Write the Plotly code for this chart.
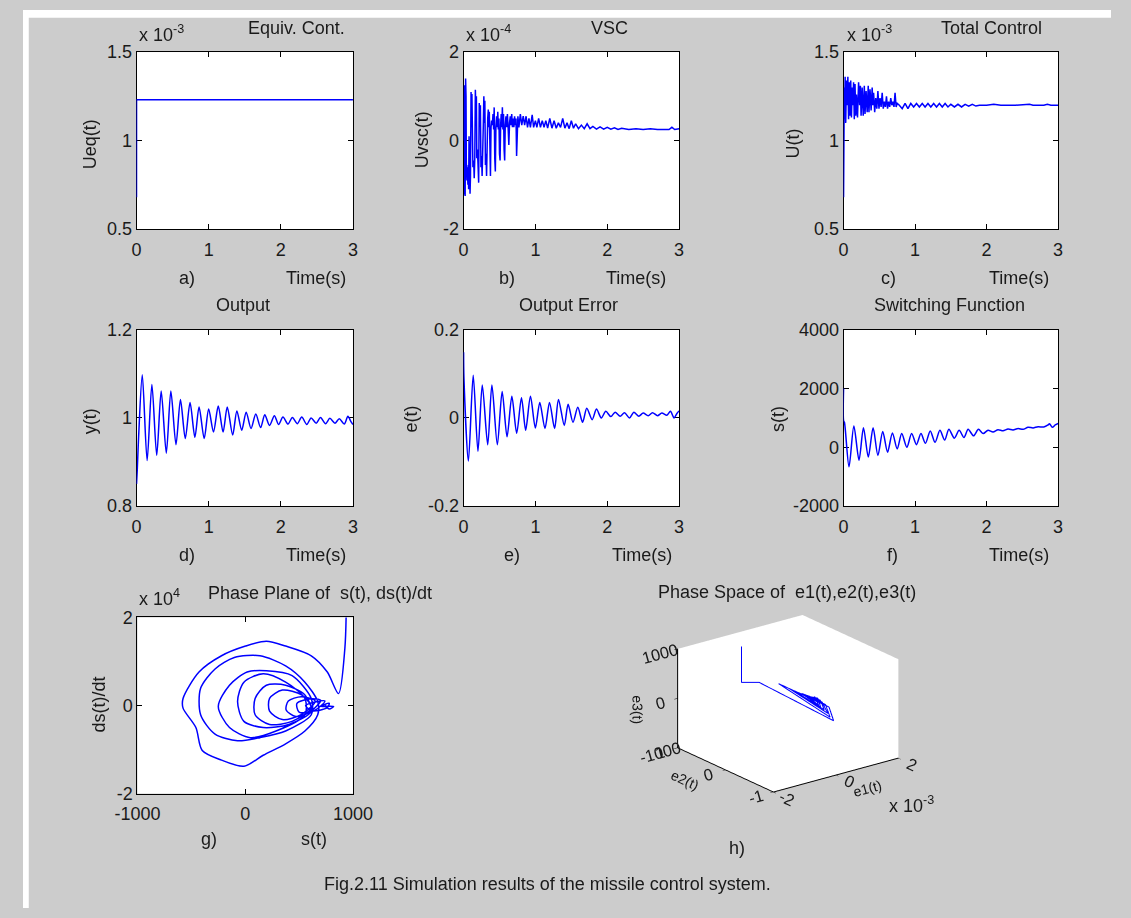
import plotly.graph_objects as go

# ---------------------------------------------------------------- page setup
W, H = 1131, 918
FONT = "Liberation Sans"
INK = "#1a1a1a"
BLUE = "#0000ff"
GREY = "#cccccc"


def fx(px):
    return px / W


def fy(py):
    return 1 - py / H


# ---------------------------------------------------------------- data
# a) equivalent control (values in units of 1e-3)
t_eq = [0.0, 0.0005, 3.0]
u_eq = [0.68, 1.23, 1.23]

# b) VSC control term (values in units of 1e-4)
t_vsc = [0.000, 0.004, 0.008, 0.012, 0.016, 0.022, 0.028, 0.034, 0.038, 0.046,
         0.054, 0.060, 0.066, 0.070, 0.076, 0.082, 0.090, 0.096, 0.104, 0.110,
         0.116, 0.122, 0.130, 0.140, 0.148, 0.156, 0.164, 0.172, 0.178, 0.184,
         0.192, 0.200, 0.210, 0.218, 0.226, 0.234, 0.242, 0.250, 0.258, 0.266,
         0.274, 0.282, 0.290, 0.296, 0.304, 0.312, 0.320, 0.328, 0.336, 0.344,
         0.350, 0.358, 0.366, 0.374, 0.382, 0.390, 0.400, 0.410, 0.418, 0.426,
         0.434, 0.442, 0.450, 0.460, 0.468, 0.476, 0.484, 0.492, 0.500, 0.508,
         0.516, 0.524, 0.532, 0.540, 0.548, 0.556, 0.564, 0.572, 0.580, 0.590,
         0.600, 0.610, 0.620, 0.630, 0.640, 0.650, 0.660, 0.670, 0.680, 0.690,
         0.700, 0.710, 0.720, 0.730, 0.738, 0.746, 0.756, 0.770, 0.790, 0.810,
         0.830, 0.850, 0.870, 0.890, 0.910, 0.930, 0.955, 0.975, 1.000, 1.020,
         1.045, 1.070, 1.095, 1.120, 1.145, 1.170, 1.200, 1.230, 1.260, 1.290,
         1.320, 1.350, 1.380, 1.410, 1.440, 1.470, 1.500, 1.530, 1.560, 1.600,
         1.640, 1.680, 1.720, 1.760, 1.800, 1.850, 1.900, 1.950, 2.000, 2.050,
         2.100, 2.150, 2.200, 2.300, 2.400, 2.500, 2.600, 2.700, 2.800, 2.860,
         2.900, 2.940, 3.000]
u_vsc = [0.00, 1.20, 0.20, 1.25, -1.20, -1.25, 1.40, 1.00, -0.50, -0.90,
         -0.60, -1.00, -0.55, -1.10, 0.10, -0.40, -1.20, -0.80, 1.10, 0.30,
         1.05, -0.30, -0.60, -0.45, -0.85, -0.40, 1.15, 0.60, 1.00, -0.40,
         -0.20, -0.50, -0.95, 0.85, 0.40, 0.80, -0.60, -0.35, -0.80, -0.40,
         0.30, 1.00, 0.40, 0.90, -0.55, -0.30, -0.80, 0.20, 0.50, 0.70,
         0.30, 0.65, -0.50, -0.80, 0.30, 0.45, 0.35, 0.60, 0.25, 0.75,
         -0.40, -0.70, 0.30, 0.55, 0.30, 0.65, 0.25, 0.50, -0.30, -0.45,
         0.35, 0.60, 0.30, 0.75, 0.25, 0.60, -0.20, -0.45, 0.35, 0.55,
         0.30, 0.60, 0.30, -0.10, 0.40, 0.55, 0.35, 0.60, 0.30, 0.50,
         0.30, 0.55, 0.35, 0.50, -0.35, 0.30, 0.55, 0.30, 0.60, 0.35,
         0.55, 0.35, 0.55, 0.30, 0.50, 0.30, 0.58, 0.30, 0.45, 0.30,
         0.50, 0.30, 0.45, 0.30, 0.45, 0.28, 0.50, 0.28, 0.45, 0.28,
         0.40, 0.30, 0.50, 0.28, 0.40, 0.27, 0.45, 0.28, 0.38, 0.27,
         0.35, 0.27, 0.38, 0.27, 0.32, 0.26, 0.31, 0.26, 0.30, 0.26,
         0.29, 0.25, 0.28, 0.25, 0.27, 0.25, 0.27, 0.25, 0.26, 0.25,
         0.30, 0.25, 0.27]

# c) total control (values in units of 1e-3)
t_tot = [0.000, 0.001, 0.005, 0.010, 0.015, 0.022, 0.030, 0.040, 0.050, 0.060,
         0.070, 0.080, 0.090, 0.100, 0.110, 0.120, 0.130, 0.140, 0.150, 0.160,
         0.170, 0.180, 0.195, 0.210, 0.225, 0.235, 0.245, 0.260, 0.275, 0.290,
         0.300, 0.315, 0.330, 0.345, 0.355, 0.370, 0.385, 0.400, 0.410, 0.420,
         0.435, 0.450, 0.465, 0.480, 0.495, 0.510, 0.525, 0.540, 0.555, 0.570,
         0.585, 0.600, 0.615, 0.630, 0.645, 0.660, 0.675, 0.690, 0.705, 0.720,
         0.735, 0.750, 0.780, 0.820, 0.860, 0.900, 0.940, 0.980, 1.020, 1.060,
         1.100, 1.140, 1.180, 1.220, 1.260, 1.300, 1.340, 1.380, 1.420, 1.460,
         1.500, 1.550, 1.600, 1.650, 1.700, 1.750, 1.800, 1.850, 1.900, 2.000,
         2.100, 2.200, 2.400, 2.600, 2.650, 2.800, 2.850, 2.900, 3.000]
u_tot = [0.68, 1.20, 1.10, 1.30, 1.12, 1.36, 1.10, 1.34, 1.20, 1.36,
         1.12, 1.33, 1.14, 1.34, 1.13, 1.30, 1.20, 1.33, 1.12, 1.32,
         1.14, 1.26, 1.13, 1.33, 1.20, 1.31, 1.14, 1.30, 1.14, 1.31,
         1.15, 1.28, 1.16, 1.31, 1.16, 1.29, 1.17, 1.30, 1.20, 1.27,
         1.16, 1.24, 1.18, 1.28, 1.18, 1.24, 1.19, 1.27, 1.18, 1.22,
         1.19, 1.25, 1.18, 1.22, 1.19, 1.24, 1.20, 1.22, 1.19, 1.27,
         1.19, 1.21, 1.20, 1.18, 1.21, 1.18, 1.21, 1.19, 1.21, 1.19,
         1.21, 1.19, 1.21, 1.19, 1.21, 1.19, 1.21, 1.19, 1.21, 1.19,
         1.205, 1.19, 1.205, 1.19, 1.205, 1.195, 1.205, 1.195, 1.20, 1.20,
         1.205, 1.20, 1.20, 1.205, 1.20, 1.20, 1.205, 1.20, 1.20]

# d) output
t_out = [0.000, 0.010, 0.030, 0.080, 0.147, 0.213, 0.280, 0.342, 0.413, 0.476,
         0.547, 0.609, 0.676, 0.742, 0.809, 0.867, 0.938, 1.000, 1.067, 1.133,
         1.200, 1.258, 1.333, 1.391, 1.458, 1.520, 1.587, 1.653, 1.720, 1.778,
         1.844, 1.911, 1.969, 2.030, 2.100, 2.160, 2.230, 2.290, 2.360, 2.420,
         2.490, 2.550, 2.620, 2.680, 2.750, 2.810, 2.880, 2.930, 2.970, 3.000]
y_out = [0.850, 0.880, 0.960, 1.098, 0.903, 1.076, 0.915, 1.061, 0.920, 1.061,
         0.939, 1.042, 0.953, 1.035, 0.956, 1.025, 0.953, 1.020, 0.968, 1.027,
         0.968, 1.025, 0.961, 1.016, 0.972, 1.013, 0.976, 1.009, 0.978, 1.007,
         0.983, 1.005, 0.985, 1.002, 0.986, 1.001, 0.987, 1.002, 0.985, 1.000,
         0.988, 1.001, 0.987, 0.999, 0.988, 0.998, 0.986, 1.004, 0.992, 0.985]

# e) output error
t_err = [0.000, 0.005, 0.067, 0.134, 0.200, 0.260, 0.336, 0.394, 0.470, 0.537,
         0.605, 0.672, 0.739, 0.806, 0.864, 0.931, 0.999, 1.061, 1.133, 1.196,
         1.267, 1.321, 1.402, 1.455, 1.523, 1.590, 1.657, 1.715, 1.790, 1.850,
         1.917, 1.980, 2.050, 2.110, 2.180, 2.240, 2.310, 2.370, 2.440, 2.500,
         2.570, 2.630, 2.700, 2.760, 2.830, 2.880, 2.930, 2.970, 3.000]
e_err = [0.149, 0.090, -0.098, 0.097, -0.076, 0.075, -0.061, 0.075, -0.061, 0.060,
         -0.043, 0.049, -0.035, 0.046, -0.028, 0.049, -0.023, 0.035, -0.024, 0.035,
         -0.024, 0.042, -0.017, 0.031, -0.010, 0.024, -0.010, 0.022, -0.004, 0.020,
         0.000, 0.015, 0.003, 0.013, 0.004, 0.012, 0.000, 0.013, 0.004, 0.011,
         0.005, 0.012, 0.005, 0.011, 0.006, 0.015, 0.000, 0.010, 0.016]

# f) switching function
t_sw = [0.000, 0.001, 0.012, 0.076, 0.144, 0.216, 0.278, 0.346, 0.413, 0.480,
        0.548, 0.615, 0.683, 0.750, 0.813, 0.885, 0.952, 1.019, 1.082, 1.145,
        1.212, 1.280, 1.347, 1.414, 1.473, 1.549, 1.616, 1.684, 1.742, 1.818,
        1.886, 1.953, 2.020, 2.090, 2.160, 2.230, 2.300, 2.370, 2.440, 2.510,
        2.580, 2.650, 2.720, 2.800, 2.860, 2.880, 2.920, 2.960, 3.000]
s_sw = [2000, 900, 850, -667, 722, -444, 667, -333, 667, -278,
        533, -167, 489, -56, 467, 0, 467, 89, 467, 133,
        556, 167, 578, 244, 611, 311, 578, 333, 611, 389,
        611, 467, 580, 520, 600, 560, 620, 590, 640, 610,
        680, 660, 700, 690, 760, 800, 680, 760, 811]

# g) phase plane: s(t) and ds/dt (ds/dt in units of 1e4)
s_pp = [940, 925, 866, 762, 613, 375, 196, 3, -220, -429,
        -577, -577, -458, -399, -220, -12, 167, 375, 554, 673,
        673, 554, 375, 137, -101, -280, -414, -414, -280, -71,
        137, 375, 613, 613, 435, 196, 18, -146, -250, -146,
        48, 286, 554, 554, 375, 167, -12, -71, -12, 167,
        405, 613, 554, 375, 196, 92, 92, 226, 435, 613,
        524, 345, 226, 226, 345, 524, 650, 520, 400, 380,
        470, 600, 700, 600, 480, 500, 640, 740, 650, 560,
        620, 760, 780, 700, 821, 780, 740]
ds_pp = [2.60, 1.30, 0.27, 0.76, 1.13, 1.35, 1.46, 1.35, 1.13, 0.76,
         0.16, -0.06, -0.50, -1.02, -1.24, -1.38, -1.13, -0.87, -0.58, -0.21,
         0.09, 0.53, 0.90, 1.13, 1.09, 0.83, 0.39, -0.21, -0.65, -0.80,
         -0.73, -0.58, -0.21, 0.16, 0.68, 0.79, 0.76, 0.46, -0.02, -0.50,
         -0.73, -0.58, -0.21, 0.16, 0.53, 0.72, 0.53, 0.09, -0.36, -0.50,
         -0.43, -0.13, 0.24, 0.46, 0.46, 0.16, -0.21, -0.43, -0.36, -0.05,
         0.24, 0.35, 0.16, -0.13, -0.32, -0.20, 0.10, 0.20, 0.10, -0.10,
         -0.25, -0.15, 0.12, 0.15, 0.05, -0.15, -0.12, 0.10, 0.08, 0.00,
         -0.12, -0.05, 0.05, -0.02, -0.02, -0.08, 0.00]

# h) phase space (e1 in units of 1e-3)
e1_ps = [-0.60, -0.60, -0.04, 0.08, 0.24, 0.16, 0.12, 0.28, 0.20, 0.20,
         0.32, 0.24, 0.24, 0.36, 0.28, 0.28, 0.40, 0.32, 0.28, 0.40,
         0.32, 0.36]
e2_ps = [0.58, 0.58, 0.58, -0.90, -0.70, 0.30, -0.80, -0.60, 0.10, -0.70,
         -0.50, 0.00, -0.60, -0.44, -0.10, -0.50, -0.36, -0.20, -0.46, -0.30,
         -0.26, -0.40]
e3_ps = [1000, 272, 176, 40, 200, 240, 60, 200, 220, 80,
         200, 200, 100, 200, 200, 100, 200, 180, 120, 200,
         160, 140]

# ---------------------------------------------------------------- panels
# (trace data, axis ranges, ticks, plot box in pixels, line shape)
panels = [
    dict(x=t_eq, y=u_eq, box=(118, 343, 43, 224), xr=[0, 3], yr=[0.5, 1.5],
         xt=[0, 1, 2, 3], xl=["0", "1", "2", "3"],
         yt=[0.5, 1, 1.5], yl=["0.5", "1", "1.5"], shape="linear"),
    dict(x=t_vsc, y=u_vsc, box=(458, 682, 43, 224), xr=[0, 3], yr=[-2, 2],
         xt=[0, 1, 2, 3], xl=["0", "1", "2", "3"],
         yt=[-2, 0, 2], yl=["-2", "0", "2"], shape="linear"),
    dict(x=t_tot, y=u_tot, box=(853, 1076, 43, 224), xr=[0, 3], yr=[0.5, 1.5],
         xt=[0, 1, 2, 3], xl=["0", "1", "2", "3"],
         yt=[0.5, 1, 1.5], yl=["0.5", "1", "1.5"], shape="linear"),
    dict(x=t_out, y=y_out, box=(118, 343, 327, 507), xr=[0, 3], yr=[0.8, 1.2],
         xt=[0, 1, 2, 3], xl=["0", "1", "2", "3"],
         yt=[0.8, 1, 1.2], yl=["0.8", "1", "1.2"], shape="spline"),
    dict(x=t_err, y=e_err, box=(458, 682, 327, 507), xr=[0, 3], yr=[-0.2, 0.2],
         xt=[0, 1, 2, 3], xl=["0", "1", "2", "3"],
         yt=[-0.2, 0, 0.2], yl=["-0.2", "0", "0.2"], shape="spline"),
    dict(x=t_sw, y=s_sw, box=(853, 1076, 327, 507), xr=[0, 3], yr=[-2000, 4000],
         xt=[0, 1, 2, 3], xl=["0", "1", "2", "3"],
         yt=[-2000, 0, 2000, 4000], yl=["-2000", "0", "2000", "4000"], shape="spline"),
    dict(x=s_pp, y=ds_pp, box=(119, 343, 621, 801), xr=[-1000, 1000], yr=[-2, 2],
         xt=[-1000, 0, 1000], xl=["-1000", "0", "1000"],
         yt=[-2, 0, 2], yl=["-2", "0", "2"], shape="spline"),
]

tick_font = dict(family=FONT, size=18, color=INK)
fig = go.Figure()
layout = dict()

for i, p in enumerate(panels, start=1):
    sfx = "" if i == 1 else str(i)
    x0, x1, y0, y1 = p["box"]
    line = dict(color=BLUE, width=1.5, shape=p["shape"])
    if p["shape"] == "spline":
        line["smoothing"] = 0.8
    fig.add_trace(go.Scatter(x=p["x"], y=p["y"], mode="lines", line=line,
                             xaxis="x" + sfx, yaxis="y" + sfx,
                             showlegend=False))
    common = dict(showline=True, linecolor="black", linewidth=1, mirror="ticks",
                  ticks="inside", ticklen=5, tickcolor="black", showgrid=False,
                  zeroline=False, tickfont=tick_font, fixedrange=True,
                  layer="below traces")
    layout["xaxis" + sfx] = dict(common, domain=[fx(x0), fx(x1)], range=p["xr"],
                                 tickvals=p["xt"], ticktext=p["xl"],
                                 ticklabelstandoff=4, anchor="y" + sfx)
    layout["yaxis" + sfx] = dict(common, domain=[fy(y1), fy(y0)], range=p["yr"],
                                 tickvals=p["yt"], ticktext=p["yl"],
                                 anchor="x" + sfx)

# 3-D phase space
fig.add_trace(go.Scatter3d(x=e1_ps, y=e2_ps, z=e3_ps, mode="lines",
                           line=dict(color=BLUE, width=2), showlegend=False,
                           scene="scene"))

font3d = dict(family=FONT, size=14, color=INK)
axis3d = dict(showbackground=True, backgroundcolor="white", showgrid=False,
              zeroline=False, showline=True, linecolor="black", linewidth=2,
              ticks="outside", tickcolor="black", ticklen=4, showspikes=False,
              tickfont=font3d)
layout["scene"] = dict(
    domain=dict(x=[fx(608), fx(982)], y=[fy(829), fy(589)]),
    xaxis=dict(axis3d, range=[-2, 2], tickvals=[-2, 0, 2], ticktext=["-2", "0", "2"],
               title=dict(text="e1(t)", font=font3d)),
    yaxis=dict(axis3d, range=[-1, 1], tickvals=[-1, 0, 1], ticktext=["-1", "0", "1"],
               title=dict(text="e2(t)", font=font3d)),
    zaxis=dict(axis3d, range=[-1000, 1000], tickvals=[-1000, 0, 1000],
               ticktext=["-1000", "0", "1000"],
               title=dict(text="e3(t)", font=font3d)),
    aspectmode="manual", aspectratio=dict(x=1.34, y=1.34, z=0.9),
    camera=dict(eye=dict(x=-0.569 * 1.1, y=-0.742 * 1.1, z=0.354 * 1.1),
                up=dict(x=0, y=0, z=1), center=dict(x=0, y=0, z=0),
                projection=dict(type="orthographic")),
    bgcolor="rgba(0,0,0,0)",
)

# ---------------------------------------------------------------- text
txt = [
    ("Equiv. Cont.", 284, 18), ("a)", 170, 274), ("Time(s)", 305, 274),
    ("VSC", 610, 18), ("b)", 503, 274), ("Time(s)", 637, 274),
    ("Total Control", 1007, 18), ("c)", 900, 274), ("Time(s)", 1035, 274),
    ("Output", 229, 302), ("d)", 170, 557), ("Time(s)", 305, 557),
    ("Output Error", 567, 302), ("e)", 508, 557), ("Time(s)", 643, 557),
    ("Switching Function", 963, 302), ("f)", 904, 557), ("Time(s)", 1035, 557),
    ("Phase Plane of  s(t), ds(t)/dt", 309, 596), ("g)", 193, 847), ("s(t)", 302, 847),
    ("Phase Space of  e1(t),e2(t),e3(t)", 794, 595), ("h)", 742, 857),
    ("Fig.2.11 Simulation results of the missile control system.", 545, 893),
]
ylabels = [("Ueq(t)", 70, 137), ("Uvsc(t)", 415, 133), ("U(t)", 800, 137),
           ("y(t)", 70, 420), ("e(t)", 403, 418), ("s(t)", 785, 418),
           ("ds(t)/dt", 78, 710)]
exps = [("x 10<sup>-3</sup>", 118, 38), ("x 10<sup>-4</sup>", 458, 38),
        ("x 10<sup>-3</sup>", 855, 38), ("x 10<sup>4</sup>", 119, 614),
        ("x 10<sup>-3</sup>", 898, 826)]

annotations = []
for s, x, y in txt:
    annotations.append(dict(text=s, x=fx(x), y=fy(y), xref="paper", yref="paper",
                            xanchor="center", yanchor="middle", showarrow=False,
                            font=tick_font))
for s, x, y in ylabels:
    annotations.append(dict(text=s, x=fx(x), y=fy(y), xref="paper", yref="paper",
                            xanchor="center", yanchor="middle", showarrow=False,
                            textangle=-90, font=tick_font))
for s, x, y in exps:
    annotations.append(dict(text=s, x=fx(x), y=fy(y), xref="paper", yref="paper",
                            xanchor="left", yanchor="bottom", showarrow=False,
                            font=tick_font))

# white margin strips along the top and left edges of the grey figure area
shapes = [
    dict(type="rect", xref="paper", yref="paper", x0=0, x1=1, y0=fy(8), y1=1,
         fillcolor="white", line=dict(width=0), layer="above"),
    dict(type="rect", xref="paper", yref="paper", x0=0, x1=fx(6), y0=0, y1=1,
         fillcolor="white", line=dict(width=0), layer="above"),
]

fig.update_layout(
    width=W, height=H, margin=dict(l=0, r=0, t=0, b=0),
    paper_bgcolor=GREY, plot_bgcolor="white",
    font=dict(family=FONT, size=18, color=INK),
    annotations=annotations, shapes=shapes, showlegend=False,
    **layout,
)

fig.write_html(
    "out.html",
    config=dict(displayModeBar=False),
    post_script="document.body.style.margin='0';",
)
